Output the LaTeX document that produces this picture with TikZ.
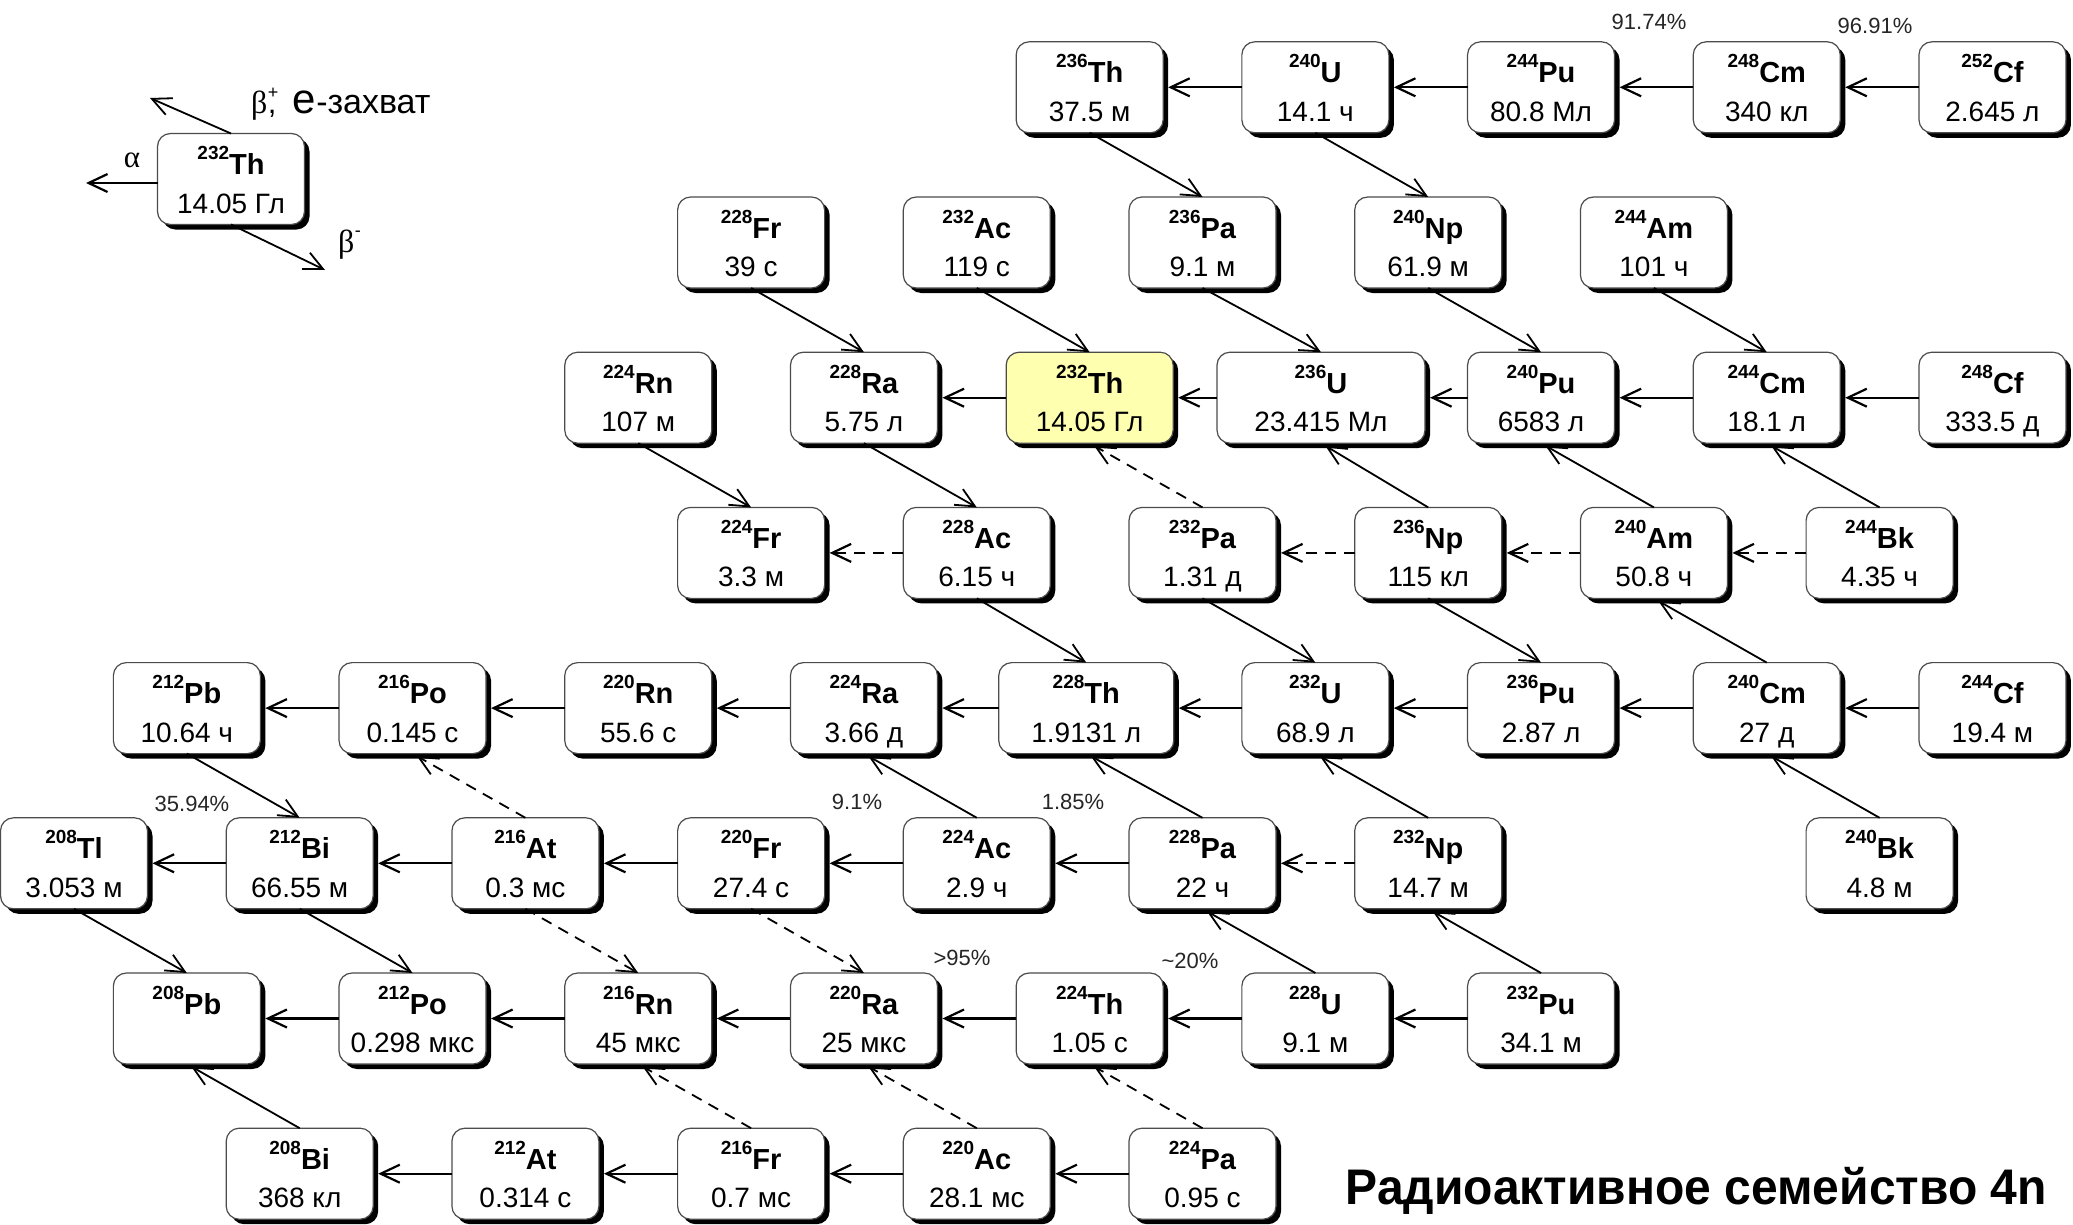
\documentclass[tikz,border=0pt]{standalone}
\usepackage{fontspec}
\setmainfont{Liberation Sans}
\newfontfamily\grk{Liberation Serif}
\newfontfamily\titlefont{Liberation Sans}[FakeStretch=0.96]
\usetikzlibrary{arrows.meta}

\definecolor{hiyellow}{RGB}{255,255,176}

% mass number written as a raised, smaller prefix
\newcommand\mass[1]{\raisebox{15pt}{\fontsize{19}{19}\selectfont #1}}

% one nuclide box: [extra style]{name}{column}{row}{mass}{symbol}{half-life}
\newcommand\nuc[7][]{%
  \node[nbox,#1] (#2) at ({74+112.85*#3},{87.3+155.2*#4}) {};
  \node[lab] (#2-l) at ([yshift=4.5pt]#2.center) {\mass{#5}#6};
  \node[hl] (#2-h) at ([yshift=-34pt]#2.center) {#7};
}

\begin{document}
\begin{tikzpicture}[x=1pt,y=-1pt,
  nbox/.style={draw=black!70, line width=1.2pt, rounded corners=13pt, fill=white,
    minimum width=147pt, minimum height=91pt, inner sep=0pt, outer sep=0pt,
    preaction={fill=black, draw=none, transform canvas={shift={(5pt,-5pt)}}}},
  lab/.style={anchor=base, inner sep=0pt, font=\fontsize{29}{29}\selectfont\bfseries},
  hl/.style={anchor=base, inner sep=0pt, font=\fontsize{28}{28}\selectfont},
  pct/.style={inner sep=0pt, font=\fontsize{22}{22}\selectfont, text=black!85},
  arr/.style={-{Straight Barb[length=19pt,width=18pt]}},
  alpha/.style={arr, line width=2.2pt, shorten >=5pt},
  bminus/.style={arr, line width=1.8pt},
  bplus/.style={arr, line width=1.8pt, shorten >=5pt},
  dsh/.style={dash pattern=on 11pt off 8pt}
]
\fill[white] (0,0) rectangle (2073,1224);
\useasboundingbox (0,0) rectangle (2073,1224);

% ---------- legend ----------
\node[nbox] (leg) at (231,179) {};
\node[lab] (leg-l) at ([yshift=4.5pt]leg.center) {\mass{232}Th};
\node[hl] (leg-h) at ([yshift=-34pt]leg.center) {14.05 Гл};
\coordinate (legA) at (86,183);
\coordinate (legBp) at (150,98);
\coordinate (legBm) at (325,270);
\draw[arr, line width=2.2pt] (leg.west |- legA) -- (legA);
\draw[arr, line width=1.8pt] (leg.north) -- (legBp);
\draw[arr, line width=1.8pt] (leg.south) -- (legBm);
\node[inner sep=0pt, font=\grk\fontsize{31}{31}\selectfont] (legAl) at (132,160) {α};
% beta-plus / electron capture caption
\node[anchor=base west, inner sep=0pt, font=\grk\fontsize{32}{32}\selectfont] (legBpb) at (251,113) {β};
\node[anchor=base west, inner sep=0pt, font=\fontsize{18}{18}\selectfont] (legBpp) at ([yshift=15pt]legBpb.base east) {+};
\node[anchor=base west, inner sep=0pt, font=\fontsize{31}{31}\selectfont] (legBpc) at (legBpb.base east) {,};
\node[anchor=base west, inner sep=0pt] (legBpt) at ([xshift=16pt]legBpc.base east)
  {{\fontsize{42}{42}\selectfont e}{\fontsize{34}{34}\selectfont-захват}};
% beta-minus caption
\node[anchor=base west, inner sep=0pt, font=\grk\fontsize{32}{32}\selectfont] (legBmb) at (338,252) {β};
\node[anchor=base west, inner sep=0pt, font=\fontsize{18}{18}\selectfont] (legBmm) at ([yshift=16pt]legBmb.base east) {-};

% ---------- nuclides ----------
% row 0
\nuc{Th236}{9}{0}{236}{Th}{37.5 м}
\nuc{U240}{11}{0}{240}{U}{14.1 ч}
\nuc{Pu244}{13}{0}{244}{Pu}{80.8 Мл}
\nuc{Cm248}{15}{0}{248}{Cm}{340 кл}
\nuc{Cf252}{17}{0}{252}{Cf}{2.645 л}
% row 1
\nuc{Fr228}{6}{1}{228}{Fr}{39 с}
\nuc{Ac232}{8}{1}{232}{Ac}{119 с}
\nuc{Pa236}{10}{1}{236}{Pa}{9.1 м}
\nuc{Np240}{12}{1}{240}{Np}{61.9 м}
\nuc{Am244}{14}{1}{244}{Am}{101 ч}
% row 2
\nuc{Rn224}{5}{2}{224}{Rn}{107 м}
\nuc{Ra228}{7}{2}{228}{Ra}{5.75 л}
\nuc[minimum width=167pt, fill=hiyellow]{Th232}{9}{2}{232}{Th}{14.05 Гл}
\nuc[minimum width=208pt]{U236}{11.05}{2}{236}{U}{23.415 Мл}
\nuc{Pu240}{13}{2}{240}{Pu}{6583 л}
\nuc{Cm244}{15}{2}{244}{Cm}{18.1 л}
\nuc{Cf248}{17}{2}{248}{Cf}{333.5 д}
% row 3
\nuc{Fr224}{6}{3}{224}{Fr}{3.3 м}
\nuc{Ac228}{8}{3}{228}{Ac}{6.15 ч}
\nuc{Pa232}{10}{3}{232}{Pa}{1.31 д}
\nuc{Np236}{12}{3}{236}{Np}{115 кл}
\nuc{Am240}{14}{3}{240}{Am}{50.8 ч}
\nuc{Bk244}{16}{3}{244}{Bk}{4.35 ч}
% row 4
\nuc{Pb212}{1}{4}{212}{Pb}{10.64 ч}
\nuc{Po216}{3}{4}{216}{Po}{0.145 с}
\nuc{Rn220}{5}{4}{220}{Rn}{55.6 с}
\nuc{Ra224}{7}{4}{224}{Ra}{3.66 д}
\nuc[minimum width=175pt]{Th228}{8.97}{4}{228}{Th}{1.9131 л}
\nuc{U232}{11}{4}{232}{U}{68.9 л}
\nuc{Pu236}{13}{4}{236}{Pu}{2.87 л}
\nuc{Cm240}{15}{4}{240}{Cm}{27 д}
\nuc{Cf244}{17}{4}{244}{Cf}{19.4 м}
% row 5
\nuc{Tl208}{0}{5}{208}{Tl}{3.053 м}
\nuc{Bi212}{2}{5}{212}{Bi}{66.55 м}
\nuc{At216}{4}{5}{216}{At}{0.3 мс}
\nuc{Fr220}{6}{5}{220}{Fr}{27.4 с}
\nuc{Ac224}{8}{5}{224}{Ac}{2.9 ч}
\nuc{Pa228}{10}{5}{228}{Pa}{22 ч}
\nuc{Np232}{12}{5}{232}{Np}{14.7 м}
\nuc{Bk240}{16}{5}{240}{Bk}{4.8 м}
% row 6
\nuc{Pb208}{1}{6}{208}{Pb}{}
\nuc{Po212}{3}{6}{212}{Po}{0.298 мкс}
\nuc{Rn216}{5}{6}{216}{Rn}{45 мкс}
\nuc{Ra220}{7}{6}{220}{Ra}{25 мкс}
\nuc{Th224}{9}{6}{224}{Th}{1.05 с}
\nuc{U228}{11}{6}{228}{U}{9.1 м}
\nuc{Pu232}{13}{6}{232}{Pu}{34.1 м}
% row 7
\nuc{Bi208}{2}{7}{208}{Bi}{368 кл}
\nuc{At212}{4}{7}{212}{At}{0.314 с}
\nuc{Fr216}{6}{7}{216}{Fr}{0.7 мс}
\nuc{Ac220}{8}{7}{220}{Ac}{28.1 мс}
\nuc{Pa224}{10}{7}{224}{Pa}{0.95 с}

% ---------- alpha decays (leftwards) ----------
\foreach \s/\d in {Cf252/Cm248, Cm248/Pu244, Pu244/U240, U240/Th236,
  Cf248/Cm244, Cm244/Pu240, Pu240/U236, U236/Th232, Th232/Ra228,
  Cf244/Cm240, Cm240/Pu236, Pu236/U232, U232/Th228, Th228/Ra224, Ra224/Rn220, Rn220/Po216, Po216/Pb212,
  Bi212/Tl208, At216/Bi212, Fr220/At216, Ac224/Fr220, Pa228/Ac224,
  Po212/Pb208, Rn216/Po212, Ra220/Rn216, Th224/Ra220, U228/Th224, Pu232/U228,
  At212/Bi208, Fr216/At212, Ac220/Fr216, Pa224/Ac220}
  \draw[alpha] (\s.west) -- (\d.east);
\foreach \s/\d in {Ac228/Fr224, Np236/Pa232, Am240/Np236, Bk244/Am240, Np232/Pa228}
  \draw[alpha, dsh] (\s.west) -- (\d.east);

% ---------- beta-minus decays (down-right) ----------
\foreach \s/\d in {Th236/Pa236, U240/Np240, Fr228/Ra228, Ac232/Th232, Pa236/U236,
  Np240/Pu240, Am244/Cm244, Rn224/Fr224, Ra228/Ac228, Ac228/Th228, Pa232/U232,
  Np236/Pu236, Pb212/Bi212, Tl208/Pb208, Bi212/Po212}
  \draw[bminus] (\s.south) -- (\d.north);
\foreach \s/\d in {At216/Rn216, Fr220/Ra220}
  \draw[bminus, dsh] (\s.south) -- (\d.north);

% ---------- beta-plus / electron capture (up-left) ----------
\foreach \s/\d in {Np236/U236, Am240/Pu240, Bk244/Cm244, Cm240/Am240, Ac224/Ra224,
  Pa228/Th228, Np232/U232, Bk240/Cm240, U228/Pa228, Pu232/Np232, Bi208/Pb208}
  \draw[bplus] (\s.north) -- (\d.south);
\foreach \s/\d in {Pa232/Th232, At216/Po216, Fr216/Rn216, Ac220/Ra220, Pa224/Th224}
  \draw[bplus, dsh] (\s.north) -- (\d.south);

% ---------- branching ratios ----------
\node[pct] (p1) at (1649,22) {91.74\%};
\node[pct] (p2) at (1875,26) {96.91\%};
\node[pct] (p3) at (192,804) {35.94\%};
\node[pct] (p4) at (857,802) {9.1\%};
\node[pct] (p5) at (1073,802) {1.85\%};
\node[pct] (p6) at (962,958) {>95\%};
\node[pct] (p7) at (1190,961) {\textasciitilde20\%};

% ---------- title ----------
\node[anchor=base east, inner sep=0pt, font=\titlefont\fontsize{50}{50}\selectfont\bfseries] (title)
  at (2047,1204) {Радиоактивное семейство 4n};
\end{tikzpicture}
\end{document}
